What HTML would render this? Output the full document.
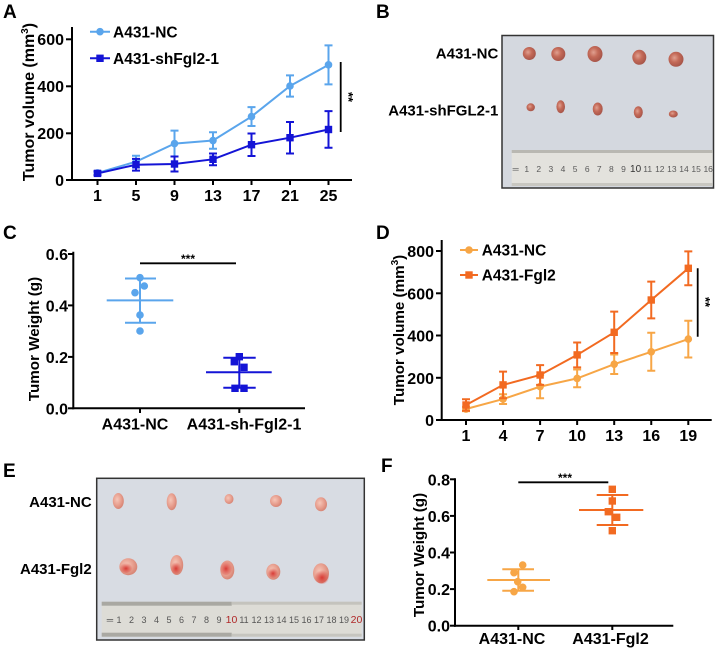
<!DOCTYPE html>
<html><head><meta charset="utf-8"><style>
html,body{margin:0;padding:0;background:#fff;}
svg{display:block;font-family:"Liberation Sans",Arial,sans-serif;font-weight:bold;}
</style></head><body>
<svg width="718" height="650" viewBox="0 0 718 650" xmlns="http://www.w3.org/2000/svg">
<defs>
<radialGradient id="tb" cx="40%" cy="40%" r="60%"><stop offset="0" stop-color="#e0a090"/><stop offset="0.5" stop-color="#c46a58"/><stop offset="1" stop-color="#a8564a"/></radialGradient>
<radialGradient id="te" cx="40%" cy="40%" r="60%"><stop offset="0" stop-color="#f6c6b8"/><stop offset="0.6" stop-color="#e8a090"/><stop offset="1" stop-color="#d88676"/></radialGradient>
<radialGradient id="tr" cx="50%" cy="55%" r="55%"><stop offset="0" stop-color="#d83a34"/><stop offset="1" stop-color="#d83a34" stop-opacity="0"/></radialGradient>
</defs>

<!-- ============ PANEL A ============ -->
<text x="3" y="18" font-size="19">A</text>
<g stroke="#000" stroke-width="2" fill="none">
<line x1="72" y1="27" x2="72" y2="181"/>
<line x1="71" y1="180" x2="352" y2="180"/>
<line x1="66" y1="39.3" x2="72" y2="39.3"/><line x1="66" y1="86.3" x2="72" y2="86.3"/><line x1="66" y1="133.3" x2="72" y2="133.3"/><line x1="66" y1="180" x2="72" y2="180"/>
<line x1="97.5" y1="180" x2="97.5" y2="185"/><line x1="136" y1="180" x2="136" y2="185"/><line x1="174.5" y1="180" x2="174.5" y2="185"/><line x1="213" y1="180" x2="213" y2="185"/><line x1="251.5" y1="180" x2="251.5" y2="185"/><line x1="290" y1="180" x2="290" y2="185"/><line x1="328.5" y1="180" x2="328.5" y2="185"/>
</g>
<g font-size="16" text-anchor="end"><text x="64" y="45">600</text><text x="64" y="92">400</text><text x="64" y="139">200</text><text x="64" y="186">0</text></g>
<g font-size="16" text-anchor="middle"><text x="97.5" y="201">1</text><text x="136" y="201">5</text><text x="174.5" y="201">9</text><text x="213" y="201">13</text><text x="251.5" y="201">17</text><text x="290" y="201">21</text><text x="328.5" y="201">25</text></g>
<text transform="translate(34,102) rotate(-90)" font-size="16" text-anchor="middle">Tumor volume (mm<tspan font-size="10" dy="-6">3</tspan><tspan dy="6">)</tspan></text>
<!-- NC light blue -->
<g stroke="#5aa5ec" stroke-width="2" fill="none">
<polyline points="97.5,172.95 136,161.67 174.5,143.58 213,140.52 251.5,116.55 290,86 328.5,64.85"/>
<path d="M97.5 171.07V174.83M93.5 171.07H101.5M93.5 174.83H101.5
M136 155.8V167.55M132 155.8H140M132 167.55H140
M174.5 130.65V156.5M170.5 130.65H178.5M170.5 156.5H178.5
M213 132.3V148.75M209 132.3H217M209 148.75H217
M251.5 107.15V125.95M247.5 107.15H255.5M247.5 125.95H255.5
M290 75.42V96.58M286 75.42H294M286 96.58H294
M328.5 45.35V84.35M324.5 45.35H332.5M324.5 84.35H332.5"/>
</g>
<g fill="#5aa5ec"><circle cx="97.5" cy="172.95" r="3.8"/><circle cx="136" cy="161.67" r="3.8"/><circle cx="174.5" cy="143.58" r="3.8"/><circle cx="213" cy="140.52" r="3.8"/><circle cx="251.5" cy="116.55" r="3.8"/><circle cx="290" cy="86" r="3.8"/><circle cx="328.5" cy="64.85" r="3.8"/></g>
<!-- sh dark blue -->
<g stroke="#1414d6" stroke-width="2" fill="none">
<polyline points="97.5,173.42 136,164.73 174.5,164.02 213,159.32 251.5,144.75 290,137.7 328.5,129.48"/>
<path d="M97.5 171.54V175.3M93.5 171.54H101.5M93.5 175.3H101.5
M136 158.85V170.6M132 158.85H140M132 170.6H140
M174.5 156.5V171.54M170.5 156.5H178.5M170.5 171.54H178.5
M213 153.44V165.2M209 153.44H217M209 165.2H217
M251.5 133.47V156.03M247.5 133.47H255.5M247.5 156.03H255.5
M290 121.95V153.45M286 121.95H294M286 153.45H294
M328.5 111.15V147.81M324.5 111.15H332.5M324.5 147.81H332.5"/>
</g>
<g fill="#1414d6"><rect x="93.8" y="169.7" width="7.4" height="7.4"/><rect x="132.3" y="161" width="7.4" height="7.4"/><rect x="170.8" y="160.3" width="7.4" height="7.4"/><rect x="209.3" y="155.6" width="7.4" height="7.4"/><rect x="247.8" y="141" width="7.4" height="7.4"/><rect x="286.3" y="134" width="7.4" height="7.4"/><rect x="324.8" y="125.8" width="7.4" height="7.4"/></g>
<!-- legend A -->
<line x1="90" y1="31.7" x2="110" y2="31.7" stroke="#5aa5ec" stroke-width="2"/><circle cx="100" cy="31.7" r="3.8" fill="#5aa5ec"/>
<text x="113" y="37.3" font-size="15.5">A431-NC</text>
<line x1="90" y1="58.3" x2="110" y2="58.3" stroke="#1414d6" stroke-width="2"/><rect x="96.3" y="54.6" width="7.4" height="7.4" fill="#1414d6"/>
<text x="113" y="64" font-size="15.5">A431-shFgl2-1</text>
<line x1="340.7" y1="62" x2="340.7" y2="132" stroke="#000" stroke-width="1.8"/>
<text transform="translate(344,97) rotate(90)" font-size="13" text-anchor="middle">**</text>

<!-- ============ PANEL B ============ -->
<text x="376" y="18" font-size="19">B</text>
<g font-size="15" text-anchor="end"><text x="498.3" y="58.7">A431-NC</text><text x="498.3" y="115.5">A431-shFGL2-1</text></g>
<rect x="502" y="35.5" width="211.5" height="152.5" fill="#d4d8df" stroke="#333" stroke-width="1.5"/>
<rect x="511.7" y="150" width="201" height="36" fill="#e3e2dd"/>
<rect x="511.7" y="150" width="201" height="3" fill="#b9b8b2"/>
<rect x="511.7" y="183" width="201" height="3" fill="#c8c7c1"/>
<g font-size="8.5" font-weight="normal" fill="#5a5a5a" text-anchor="middle">
<text x="515.7" y="172">═</text><text x="526.7" y="172">1</text><text x="538.8" y="172">2</text><text x="550.9" y="172">3</text><text x="563" y="172">4</text><text x="575.1" y="172">5</text><text x="587.2" y="172">6</text><text x="599.3" y="172">7</text><text x="611.4" y="172">8</text><text x="623.5" y="172">9</text><text x="635.6" y="172" font-size="10" fill="#333">10</text><text x="647.7" y="172">11</text><text x="659.8" y="172">12</text><text x="671.9" y="172">13</text><text x="684" y="172">14</text><text x="696.1" y="172">15</text><text x="708.2" y="172">16</text>
</g>
<g fill="url(#tb)">
<ellipse cx="529.3" cy="53.5" rx="6.5" ry="6.5"/><ellipse cx="558.3" cy="54" rx="7" ry="7"/><ellipse cx="595" cy="54" rx="7.5" ry="8"/><ellipse cx="639.3" cy="57.3" rx="7" ry="7.5"/><ellipse cx="676" cy="59.3" rx="7.5" ry="7.5"/>
<ellipse cx="530.7" cy="107.3" rx="4.2" ry="4"/><ellipse cx="560.7" cy="106.7" rx="4.3" ry="6.5"/><ellipse cx="597.7" cy="109" rx="5" ry="6.5"/><ellipse cx="638.3" cy="112.3" rx="4.5" ry="6"/><ellipse cx="673.3" cy="114" rx="4.5" ry="3.5"/>
</g>

<!-- ============ PANEL C ============ -->
<text x="3" y="239" font-size="19">C</text>
<g stroke="#000" stroke-width="2" fill="none">
<line x1="73.3" y1="251.7" x2="73.3" y2="409.3"/>
<line x1="72.3" y1="408.3" x2="305" y2="408.3"/>
<line x1="68" y1="254" x2="73.3" y2="254"/><line x1="68" y1="305.4" x2="73.3" y2="305.4"/><line x1="68" y1="356.9" x2="73.3" y2="356.9"/><line x1="68" y1="408.3" x2="73.3" y2="408.3"/>
<line x1="140" y1="408.3" x2="140" y2="413"/><line x1="239.3" y1="408.3" x2="239.3" y2="413"/>
</g>
<g font-size="16" text-anchor="end"><text x="68" y="260">0.6</text><text x="68" y="311.4">0.4</text><text x="68" y="362.9">0.2</text><text x="68" y="414.3">0.0</text></g>
<g font-size="16" text-anchor="middle"><text x="135" y="429.5">A431-NC</text><text x="244" y="429.5">A431-sh-Fgl2-1</text></g>
<text transform="translate(39,339) rotate(-90)" font-size="15.2" text-anchor="middle">Tumor Weight (g)</text>
<line x1="140" y1="263.3" x2="236" y2="263.3" stroke="#000" stroke-width="1.8"/>
<text x="188" y="263" font-size="12" text-anchor="middle">***</text>
<g stroke="#5aa5ec" stroke-width="2">
<line x1="106.7" y1="300.4" x2="173.3" y2="300.4"/><line x1="125" y1="278.5" x2="156" y2="278.5"/><line x1="125" y1="322.7" x2="156" y2="322.7"/><line x1="140" y1="278.5" x2="140" y2="322.7"/>
</g>
<g fill="#5aa5ec"><circle cx="140" cy="277.7" r="3.8"/><circle cx="144.3" cy="286" r="3.8"/><circle cx="135" cy="292.7" r="3.8"/><circle cx="140" cy="315" r="3.8"/><circle cx="140" cy="331" r="3.8"/></g>
<g stroke="#1414d6" stroke-width="2">
<line x1="206" y1="372.3" x2="271.7" y2="372.3"/><line x1="223.3" y1="357.7" x2="255.7" y2="357.7"/><line x1="223.3" y1="387.7" x2="255.7" y2="387.7"/><line x1="239.3" y1="357.7" x2="239.3" y2="387.7"/>
</g>
<g fill="#1414d6"><rect x="235.6" y="353" width="7.4" height="7.4"/><rect x="230.6" y="358" width="7.4" height="7.4"/><rect x="240.3" y="363.6" width="7.4" height="7.4"/><rect x="231.3" y="384.6" width="7.4" height="7.4"/><rect x="240.3" y="384.6" width="7.4" height="7.4"/></g>

<!-- ============ PANEL D ============ -->
<text x="376" y="239" font-size="19">D</text>
<g stroke="#000" stroke-width="2" fill="none">
<line x1="441.7" y1="240" x2="441.7" y2="421"/>
<line x1="440.7" y1="420" x2="711.7" y2="420"/>
<line x1="436" y1="251" x2="441.7" y2="251"/><line x1="436" y1="293.3" x2="441.7" y2="293.3"/><line x1="436" y1="335.5" x2="441.7" y2="335.5"/><line x1="436" y1="377.8" x2="441.7" y2="377.8"/><line x1="436" y1="420" x2="441.7" y2="420"/>
<line x1="466" y1="420" x2="466" y2="425"/><line x1="503.05" y1="420" x2="503.05" y2="425"/><line x1="540.1" y1="420" x2="540.1" y2="425"/><line x1="577.15" y1="420" x2="577.15" y2="425"/><line x1="614.2" y1="420" x2="614.2" y2="425"/><line x1="651.25" y1="420" x2="651.25" y2="425"/><line x1="688.3" y1="420" x2="688.3" y2="425"/>
</g>
<g font-size="16" text-anchor="end"><text x="434" y="257">800</text><text x="434" y="299.3">600</text><text x="434" y="341.5">400</text><text x="434" y="383.8">200</text><text x="434" y="426">0</text></g>
<g font-size="16" text-anchor="middle"><text x="466" y="441">1</text><text x="503.05" y="441">4</text><text x="540.1" y="441">7</text><text x="577.15" y="441">10</text><text x="614.2" y="441">13</text><text x="651.25" y="441">16</text><text x="688.3" y="441">19</text></g>
<text transform="translate(404,330) rotate(-90)" font-size="15.2" text-anchor="middle">Tumor volume (mm<tspan font-size="10" dy="-6">3</tspan><tspan dy="6">)</tspan></text>
<!-- NC light orange -->
<g stroke="#f7a646" stroke-width="2" fill="none">
<polyline points="466,409.02 503.05,399.09 540.1,386.62 577.15,378.38 614.2,364.23 651.25,351.77 688.3,339.09"/>
<path d="M466 406.91V411.13M462 406.91H470M462 411.13H470
M503.05 394.23V403.95M499.05 394.23H507.05M499.05 403.95H507.05
M540.1 375V398.24M536.1 375H544.1M536.1 398.24H544.1
M577.15 369.51V387.25M573.15 369.51H581.15M573.15 387.25H581.15
M614.2 354.51V373.95M610.2 354.51H618.2M610.2 373.95H618.2
M651.25 332.76V370.78M647.25 332.76H655.25M647.25 370.78H655.25
M688.3 320.71V357.47M684.3 320.71H692.3M684.3 357.47H692.3"/>
</g>
<g fill="#f7a646"><circle cx="466" cy="409.02" r="3.8"/><circle cx="503.05" cy="399.09" r="3.8"/><circle cx="540.1" cy="386.62" r="3.8"/><circle cx="577.15" cy="378.38" r="3.8"/><circle cx="614.2" cy="364.23" r="3.8"/><circle cx="651.25" cy="351.77" r="3.8"/><circle cx="688.3" cy="339.09" r="3.8"/></g>
<!-- Fgl2 dark orange -->
<g stroke="#f26a21" stroke-width="2" fill="none">
<polyline points="466,405 503.05,384.93 540.1,375 577.15,354.93 614.2,332.33 651.25,300 688.3,268.32"/>
<path d="M466 399.3V410.7M462 399.3H470M462 410.7H470
M503.05 371.62V398.24M499.05 371.62H507.05M499.05 398.24H507.05
M540.1 365.07V384.93M536.1 365.07H544.1M536.1 384.93H544.1
M577.15 342.47V367.39M573.15 342.47H581.15M573.15 367.39H581.15
M614.2 311.63V353.03M610.2 311.63H618.2M610.2 353.03H618.2
M651.25 281.62V318.38M647.25 281.62H655.25M647.25 318.38H655.25
M688.3 251.42V285.22M684.3 251.42H692.3M684.3 285.22H692.3"/>
</g>
<g fill="#f26a21"><rect x="462.3" y="401.3" width="7.4" height="7.4"/><rect x="499.35" y="381.2" width="7.4" height="7.4"/><rect x="536.4" y="371.3" width="7.4" height="7.4"/><rect x="573.45" y="351.2" width="7.4" height="7.4"/><rect x="610.5" y="328.6" width="7.4" height="7.4"/><rect x="647.55" y="296.3" width="7.4" height="7.4"/><rect x="684.6" y="264.6" width="7.4" height="7.4"/></g>
<!-- legend D -->
<line x1="460" y1="250" x2="478" y2="250" stroke="#f7a646" stroke-width="2"/><circle cx="469" cy="250" r="3.8" fill="#f7a646"/>
<text x="481.7" y="255.5" font-size="15.5">A431-NC</text>
<line x1="460" y1="275" x2="478" y2="275" stroke="#f26a21" stroke-width="2"/><rect x="465.3" y="271.3" width="7.4" height="7.4" fill="#f26a21"/>
<text x="481.7" y="280.5" font-size="15.5">A431-Fgl2</text>
<line x1="697.7" y1="268.3" x2="697.7" y2="336.7" stroke="#000" stroke-width="1.8"/>
<text transform="translate(701,302) rotate(90)" font-size="13" text-anchor="middle">**</text>

<!-- ============ PANEL E ============ -->
<text x="3" y="477" font-size="19">E</text>
<g font-size="15" text-anchor="end"><text x="91.7" y="507">A431-NC</text><text x="91.7" y="574">A431-Fgl2</text></g>
<rect x="96.7" y="478.3" width="267.6" height="161.7" fill="#d8dce3" stroke="#333" stroke-width="1.5"/>
<rect x="101.7" y="601.7" width="260" height="35" fill="#dddcd6"/>
<rect x="101.7" y="601.7" width="130" height="4" fill="#a9a8a2"/>
<rect x="231.7" y="601.7" width="130" height="3" fill="#c4c3bd"/>
<rect x="101.7" y="632.7" width="130" height="4" fill="#aaa9a3"/>
<rect x="231.7" y="633.7" width="130" height="3" fill="#c6c5bf"/>
<g font-size="9" font-weight="normal" fill="#555" text-anchor="middle">
<text x="110" y="623">═</text><text x="119" y="623">1</text><text x="131.5" y="623">2</text><text x="144" y="623">3</text><text x="156.5" y="623">4</text><text x="169" y="623">5</text><text x="181.5" y="623">6</text><text x="194" y="623">7</text><text x="206.5" y="623">8</text><text x="219" y="623">9</text><text x="231.5" y="623" font-size="10.5" fill="#b02828">10</text><text x="244" y="623">11</text><text x="256.5" y="623">12</text><text x="269" y="623">13</text><text x="281.5" y="623">14</text><text x="294" y="623">15</text><text x="306.5" y="623">16</text><text x="319" y="623">17</text><text x="331.5" y="623">18</text><text x="344" y="623">19</text><text x="356.5" y="623" font-size="10.5" fill="#b02828">20</text>
</g>
<g fill="url(#te)">
<ellipse cx="118.3" cy="501" rx="5.5" ry="8"/><ellipse cx="171.7" cy="501.7" rx="5" ry="8.5"/><ellipse cx="229" cy="499" rx="4.5" ry="5"/><ellipse cx="276" cy="501" rx="6" ry="6"/><ellipse cx="321" cy="504.3" rx="6" ry="7"/>
<ellipse cx="128.3" cy="566.7" rx="9" ry="8.5"/><ellipse cx="176.7" cy="565" rx="6.5" ry="10"/><ellipse cx="227.3" cy="570" rx="7" ry="9.5"/><ellipse cx="273.3" cy="571.7" rx="7" ry="8"/><ellipse cx="321" cy="573.3" rx="8" ry="10"/>
</g>
<g fill="url(#tr)">
<ellipse cx="126" cy="568" rx="6" ry="5"/><ellipse cx="176" cy="568" rx="5" ry="6"/><ellipse cx="226" cy="568" rx="6" ry="7"/><ellipse cx="273" cy="573" rx="5" ry="5"/><ellipse cx="322" cy="577" rx="7" ry="7"/>
</g>

<!-- ============ PANEL F ============ -->
<text x="381" y="472" font-size="19">F</text>
<g stroke="#000" stroke-width="2" fill="none">
<line x1="455" y1="478.3" x2="455" y2="626.7"/>
<line x1="454" y1="625.7" x2="673.3" y2="625.7"/>
<line x1="450" y1="479.3" x2="455" y2="479.3"/><line x1="450" y1="515.9" x2="455" y2="515.9"/><line x1="450" y1="552.5" x2="455" y2="552.5"/><line x1="450" y1="589.1" x2="455" y2="589.1"/><line x1="450" y1="625.7" x2="455" y2="625.7"/>
<line x1="518.3" y1="625.7" x2="518.3" y2="630"/><line x1="612.3" y1="625.7" x2="612.3" y2="630"/>
</g>
<g font-size="16" text-anchor="end"><text x="450" y="485.3">0.8</text><text x="450" y="521.9">0.6</text><text x="450" y="558.5">0.4</text><text x="450" y="595.1">0.2</text><text x="450" y="631.7">0.0</text></g>
<g font-size="16" text-anchor="middle"><text x="512" y="644">A431-NC</text><text x="610.5" y="644">A431-Fgl2</text></g>
<text transform="translate(424,555) rotate(-90)" font-size="15.2" text-anchor="middle">Tumor Weight (g)</text>
<line x1="518.3" y1="482.3" x2="608.3" y2="482.3" stroke="#000" stroke-width="1.8"/>
<text x="565" y="482" font-size="12" text-anchor="middle">***</text>
<g stroke="#f7a646" stroke-width="2">
<line x1="487.3" y1="580" x2="550" y2="580"/><line x1="502.3" y1="569.3" x2="534" y2="569.3"/><line x1="502.3" y1="590.7" x2="534" y2="590.7"/><line x1="518.3" y1="569.3" x2="518.3" y2="590.7"/>
</g>
<g fill="#f7a646"><circle cx="522.7" cy="565" r="3.8"/><circle cx="514" cy="572.7" r="3.8"/><circle cx="517.7" cy="581.7" r="3.8"/><circle cx="522.7" cy="587.3" r="3.8"/><circle cx="514" cy="591.7" r="3.8"/></g>
<g stroke="#f26a21" stroke-width="2">
<line x1="579" y1="510" x2="643.3" y2="510"/><line x1="596.7" y1="495" x2="628.3" y2="495"/><line x1="596.7" y1="525" x2="628.3" y2="525"/><line x1="612.3" y1="495" x2="612.3" y2="525"/>
</g>
<g fill="#f26a21"><rect x="608.6" y="485.6" width="7.4" height="7.4"/><rect x="608.6" y="497.3" width="7.4" height="7.4"/><rect x="604.6" y="508" width="7.4" height="7.4"/><rect x="613" y="513.6" width="7.4" height="7.4"/><rect x="608.6" y="527" width="7.4" height="7.4"/></g>
</svg>
</body></html>
